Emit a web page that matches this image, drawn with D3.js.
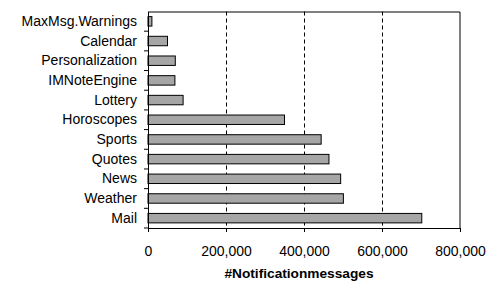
<!DOCTYPE html>
<html>
<head>
<meta charset="utf-8">
<script src="https://cdn.jsdelivr.net/npm/d3@7"></script>
<style>
  body { margin: 0; background: #fff; }
  text { font-family: "Liberation Sans", Arial, sans-serif; fill: #000; }
</style>
</head>
<body>
<div id="chart"></div>
<script>
// data, top row first
var categories = ["MaxMsg.Warnings", "Calendar", "Personalization", "IMNoteEngine", "Lottery",
  "Horoscopes", "Sports", "Quotes", "News", "Weather", "Mail"];
var messages = [10000, 50000, 70000, 69000, 90000, 350000, 444000, 464000, 494000, 501000, 702000];
var xTicks = [0, 200000, 400000, 600000, 800000];
var xTitle = "#Notificationmessages";

var svgWidth = 486, svgHeight = 284;
var margin = {top: 11.5, right: 26, bottom: 56, left: 148};
var width = svgWidth - margin.left - margin.right;
var height = svgHeight - margin.top - margin.bottom;

var svg = d3.select("#chart").append("svg")
  .attr("width", svgWidth)
  .attr("height", svgHeight);

var g = svg.append("g")
  .attr("transform", `translate(${margin.left}, ${margin.top})`);

var x = d3.scaleLinear().domain([0, 800000]).range([0, width]);
var y = d3.scaleBand().domain(categories).range([0, height]).paddingInner(0.52).paddingOuter(0.26);

// dashed gridlines
g.selectAll("line.grid")
  .data(xTicks.slice(1, -1))
  .enter().append("line")
  .attr("class", "grid")
  .attr("x1", d => Math.round(x(d)) + 0.5)
  .attr("x2", d => Math.round(x(d)) + 0.5)
  .attr("y1", 0)
  .attr("y2", height)
  .attr("stroke", "#000")
  .attr("stroke-dasharray", "4,3");

// bars
g.selectAll("rect.bar")
  .data(categories)
  .enter().append("rect")
  .attr("class", "bar")
  .attr("x", x(0))
  .attr("y", d => y(d))
  .attr("width", (d, i) => x(messages[i]))
  .attr("height", y.bandwidth())
  .attr("fill", "#a6a6a6")
  .attr("stroke", "#000")
  .attr("stroke-width", 1);

// frame top / right
g.append("path")
  .attr("d", `M0,0.5H${width}V${height}`)
  .attr("fill", "none")
  .attr("stroke", "#000");

// axes
var xAxis = d3.axisBottom(x)
  .tickValues(xTicks)
  .tickFormat(d3.format(","))
  .tickSize(4)
  .tickPadding(14);
var gx = g.append("g")
  .attr("transform", `translate(0, ${height})`)
  .call(xAxis);
gx.selectAll("text").style("font-size", "14px");

var bandEdges = categories.map(c => y(c) - y.step() * y.paddingInner() / 2).concat([height]);
var yAxis = d3.axisLeft(y).tickSize(0).tickPadding(11);
var gy = g.append("g").call(yAxis);
gy.selectAll("text").style("font-size", "14px");
gy.selectAll("line.edge")
  .data(bandEdges.slice(1))
  .enter().append("line")
  .attr("class", "edge")
  .attr("x1", -4).attr("x2", 0)
  .attr("y1", d => d).attr("y2", d => d)
  .attr("stroke", "#000");

[gx, gy].forEach(a => {
  a.select(".domain").attr("stroke", "#000");
  a.selectAll(".tick line").attr("stroke", "#000");
  a.attr("font-family", null).attr("font-size", null);
});

// axis title
g.append("text")
  .attr("x", width / 2 - 5)
  .attr("y", height + 49.5)
  .attr("text-anchor", "middle")
  .style("font-size", "13.7px")
  .style("font-weight", "bold")
  .text(xTitle);
</script>
</body>
</html>
